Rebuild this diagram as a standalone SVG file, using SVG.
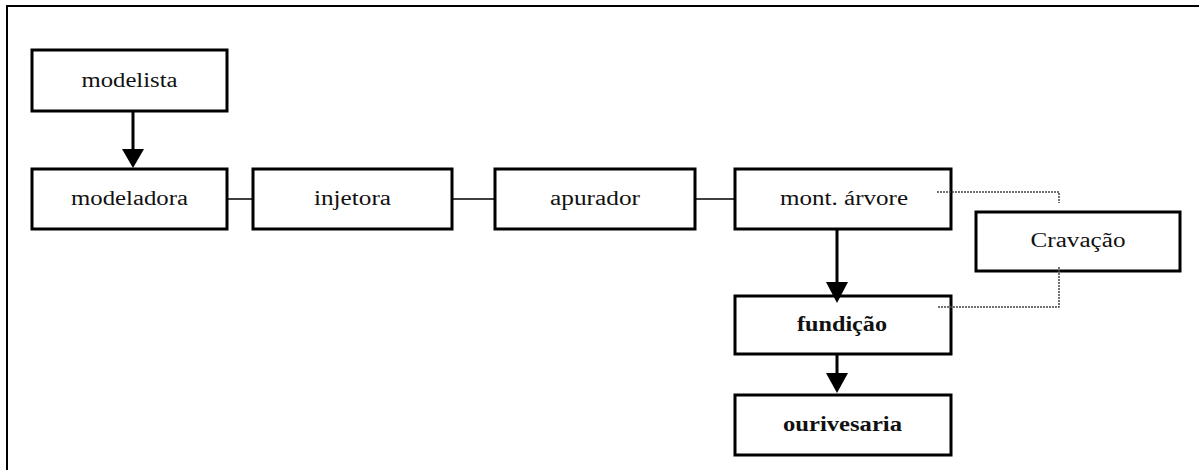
<svg xmlns="http://www.w3.org/2000/svg" width="1199" height="470" viewBox="0 0 1199 470">
<style>
.box{fill:#fff;stroke:#000;stroke-width:3}
.t{font-family:"Liberation Serif","Times New Roman",serif;font-size:20px;fill:#111;text-anchor:middle}
.b{font-weight:bold}
.ln{stroke:#000;stroke-width:1.5;fill:none}
.ar{stroke:#000;stroke-width:3;fill:none}
.dot{stroke:#444;stroke-width:1.5;fill:none;stroke-dasharray:2 1}
</style>
<rect x="0" y="0" width="1199" height="470" fill="#fff"/>
<rect x="7" y="6" width="1200" height="500" fill="none" stroke="#000" stroke-width="2"/>
<g id="modelista"><rect class="box" x="32" y="50" width="195" height="61"/><text class="t" x="129.5" y="87" textLength="96" lengthAdjust="spacingAndGlyphs">modelista</text></g>
<g id="modeladora"><rect class="box" x="32" y="169" width="195" height="60"/><text class="t" x="129.5" y="205" textLength="117" lengthAdjust="spacingAndGlyphs">modeladora</text></g>
<g id="injetora"><rect class="box" x="253" y="169" width="199" height="60"/><text class="t" x="352.5" y="205" textLength="77" lengthAdjust="spacingAndGlyphs">injetora</text></g>
<g id="apurador"><rect class="box" x="495" y="169" width="200" height="60"/><text class="t" x="595" y="205" textLength="90" lengthAdjust="spacingAndGlyphs">apurador</text></g>
<g id="mont-arvore"><rect class="box" x="735" y="169" width="216" height="60"/><text class="t" x="844" y="205" textLength="128" lengthAdjust="spacingAndGlyphs">mont. árvore</text></g>
<g id="cravacao"><rect class="box" x="976" y="212" width="204" height="59"/><text class="t" x="1078" y="247" textLength="95" lengthAdjust="spacingAndGlyphs">Cravação</text></g>
<g id="fundicao"><rect class="box" x="735" y="296" width="216" height="58"/><text class="t b" x="842" y="331" textLength="90" lengthAdjust="spacingAndGlyphs">fundição</text></g>
<g id="ourivesaria"><rect class="box" x="735" y="395" width="216" height="60"/><text class="t b" x="842.5" y="431" textLength="119" lengthAdjust="spacingAndGlyphs">ourivesaria</text></g>
<g id="connectors">
<line class="ln" x1="227" y1="199" x2="253" y2="199"/>
<line class="ln" x1="452" y1="199" x2="495" y2="199"/>
<line class="ln" x1="695" y1="199" x2="735" y2="199"/>
<line class="ar" x1="133" y1="111" x2="133" y2="150"/>
<polygon points="122,149 144,149 133,168" fill="#000"/>
<line class="ar" x1="837" y1="229" x2="837" y2="283"/>
<polygon points="826,282 848,282 837,303" fill="#000"/>
<line class="ar" x1="837" y1="354" x2="837" y2="374"/>
<polygon points="826,373 848,373 837,393" fill="#000"/>
<polyline class="dot" points="937,192 1059,192 1059,203"/>
<polyline class="dot" points="1059,267 1059,307 937,307"/>
</g>
</svg>
